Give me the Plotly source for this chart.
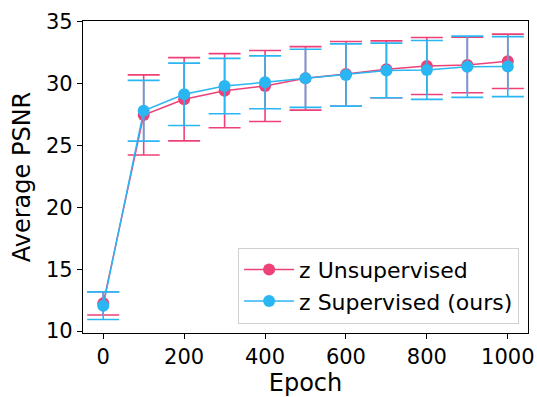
import plotly.graph_objects as go

epochs = [0, 100, 200, 300, 400, 500, 600, 700, 800, 900, 1000]

unsup_mean = [12.24, 27.48, 28.75, 29.44, 29.82, 30.44, 30.80, 31.17, 31.44, 31.52, 31.82]
unsup_std = [0.94, 3.24, 3.37, 3.00, 2.87, 2.57, 2.62, 2.30, 2.30, 2.24, 2.20]

sup_mean = [12.05, 27.82, 29.15, 29.82, 30.12, 30.44, 30.71, 31.08, 31.12, 31.38, 31.39]
sup_std = [1.12, 2.46, 2.52, 2.24, 2.14, 2.35, 2.52, 2.21, 2.38, 2.48, 2.43]

names = ["z Unsupervised", "z Supervised (ours)"]
colors = ["#EE4177", "#2AB6F3"]

x_ticks = [0, 200, 400, 600, 800, 1000]
y_ticks = [10, 15, 20, 25, 30, 35]

FONT = "DejaVu Sans"

fig = go.Figure()
for i, (mean, std, name, col) in enumerate([(unsup_mean, unsup_std, names[0], colors[0]),
                                            (sup_mean, sup_std, names[1], colors[1])]):
    fig.add_trace(go.Scatter(
        x=epochs, y=mean, name=name, mode="lines+markers",
        legendgroup="g%d" % i,
        line=dict(color=col, width=1.5),
        marker=dict(color=col, size=12),
        error_y=dict(type="data", array=std, visible=True, color=col,
                     thickness=1.6, width=16),
    ))

axis_common = dict(
    showline=True, linecolor="black", linewidth=1.2, mirror=True,
    ticks="outside", ticklen=5, tickwidth=1.2, tickcolor="black",
    showgrid=False, zeroline=False, automargin=False,
    tickfont=dict(family=FONT, size=21, color="black"),
)

fig.update_layout(
    template="none",
    width=537, height=397,
    margin=dict(l=83, r=9, t=21, b=64, autoexpand=False),
    paper_bgcolor="white", plot_bgcolor="white",
    font=dict(family=FONT, color="black"),
    xaxis=dict(range=[-50, 1050], tickvals=x_ticks,
               title=dict(text="Epoch", font=dict(family=FONT, size=24), standoff=2),
               **axis_common),
    yaxis=dict(range=[9.84, 35.08], tickvals=y_ticks,
               title=dict(text="Average PSNR", font=dict(family=FONT, size=24), standoff=8),
               **axis_common),
    legend=dict(x=0.98, y=0.03, xanchor="right", yanchor="bottom",
                bgcolor="rgba(255,255,255,0.8)", bordercolor="#d0d0d0", borderwidth=1,
                font=dict(family=FONT, size=22, color="black"),
                itemwidth=50, traceorder="grouped", tracegroupgap=0),
    showlegend=True,
)

fig.write_html("out.html")
